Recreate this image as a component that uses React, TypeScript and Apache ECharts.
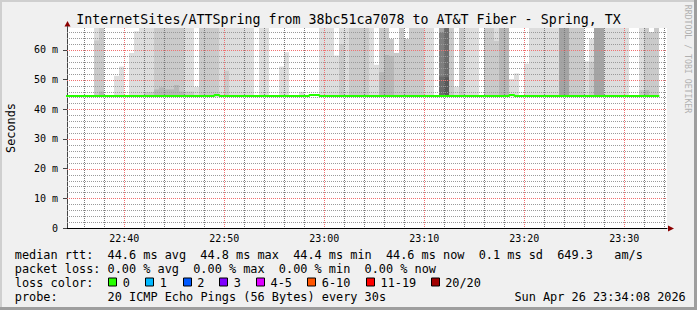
import React, { useEffect, useRef } from 'react';
import * as echarts from 'echarts';

// ---------------- data ----------------
const chartTitle = 'InternetSites/ATTSpring from 38bc51ca7078 to AT&T Fiber - Spring, TX';
const yAxisTitle = 'Seconds';
const watermark = 'RRDTOOL / TOBI OETIKER';

const axisStart = '22:34:16';
const axisEnd = '23:34:16';
const sampleStep = 30; // seconds per RRD step
const medianStart = '22:34:00';
const smokeStart = '22:37:00';

const xLabelTimes = ['22:40', '22:50', '23:00', '23:10', '23:20', '23:30'];
const xMinorMinutes = 2;
const xMajorMinutes = 10;
const yTicks = [0, 10, 20, 30, 40, 50, 60];
const yMinorStep = 2;
const yMax = 67.4;

// median RTT (ms), one value per 30 s step from medianStart
const medianRtt = [
  44.5, 44.5, 44.5, 44.5, 44.5, 44.5, 44.5, 44.5, 44.5, 44.5,
  44.5, 44.5, 44.5, 44.5, 44.5, 44.5, 44.5, 44.5, 44.5, 44.5,
  44.5, 44.5, 44.5, 44.5, 44.5, 44.5, 44.5, 44.5, 44.5, 44.5,
  44.85, 44.5, 44.5, 44.5, 44.5, 44.5, 44.5, 44.5, 44.5, 44.5,
  44.5, 44.5, 44.5, 44.5, 44.5, 44.5, 44.5, 44.5, 44.5, 44.85,
  44.85, 44.5, 44.5, 44.5, 44.5, 44.5, 44.5, 44.5, 44.5, 44.5,
  44.5, 44.5, 44.5, 44.5, 44.5, 44.5, 44.5, 44.5, 44.5, 44.5,
  44.5, 44.5, 44.5, 44.5, 44.5, 44.5, 44.5, 44.5, 44.5, 44.5,
  44.5, 44.5, 44.5, 44.5, 44.5, 44.5, 44.5, 44.5, 44.5, 44.85,
  44.5, 44.5, 44.5, 44.5, 44.5, 44.5, 44.5, 44.5, 44.5, 44.5,
  44.5, 44.5, 44.5, 44.5, 44.5, 44.5, 44.5, 44.5, 44.5, 44.5,
  44.5, 44.5, 44.5, 44.5, 44.5, 44.5, 44.5, 44.5, 44.5,
];

// smoke: pings above the median per 30 s step from smokeStart (ms, highest first)
const OFF = 70; // above the top of the graph
const smokeFloor = 44.3;
const smokePings: number[][] = [
  [OFF, 63.2], [OFF, OFF, 46.0], [], [], [51.3], [54.4], [], [59.0], [66.3], [OFF],
  [OFF, 45.8], [OFF, 45.8], [OFF, OFF, 46.7], [OFF, OFF, 47.4], [OFF, OFF, 46.7], [OFF, OFF, 46.7], [OFF, OFF, 48.2], [OFF, OFF, 46.0], [OFF, 46.0], [OFF, 46.0],
  [47.5], [OFF, OFF], [OFF, OFF], [OFF, OFF], [OFF, OFF], [OFF], [OFF, 53.0], [OFF], [OFF], [OFF],
  [OFF], [OFF], [], [OFF], [OFF], [], [], [54.4], [59.2], [],
  [], [45.9], [], [], [], [OFF], [OFF], [OFF], [58.1], [OFF, 62.0],
  [OFF], [OFF, OFF], [OFF, OFF], [OFF, OFF], [OFF, OFF], [OFF], [55.0], [OFF, OFF, 52.5], [OFF, OFF, 58.3], [63.7, 63.7, 58.0],
  [59.0, 59.0], [OFF, OFF], [63.7, 63.7], [OFF, OFF], [OFF, OFF], [OFF, OFF], [OFF], [OFF], [], [OFF, OFF, OFF, OFF, 66.0, 66.0, 51.0],
  [OFF, OFF, OFF, OFF, OFF, OFF, OFF, 50.8], [OFF, OFF], [47.6], [OFF, OFF], [OFF], [OFF], [OFF], [], [OFF, OFF], [OFF, OFF],
  [OFF, 63.0], [OFF, OFF, OFF], [OFF, OFF, OFF], [50.2], [52.1], [], [55.4], [OFF], [OFF], [OFF],
  [OFF], [OFF], [OFF], [OFF, OFF, OFF, OFF], [OFF, OFF, OFF, OFF], [OFF, OFF], [OFF, OFF], [OFF, OFF], [56.2], [63.7, 56.0],
  [OFF, OFF, OFF, OFF], [OFF, OFF, OFF, OFF], [OFF], [OFF], [OFF], [OFF], [OFF], [], [], [OFF, 46.5],
  [OFF, OFF, 46.5], [66.0, 66.0], [OFF, OFF],
];

const legendRtt = ['median rtt:', '44.6 ms avg', '44.8 ms max', '44.4 ms min', '44.6 ms now', '0.1 ms sd', '649.3', 'am/s'];
const legendLoss = ['packet loss:', '0.00 % avg', '0.00 % max', '0.00 % min', '0.00 % now'];
const lossColorTitle = 'loss color:';
const lossLabels = ['0', '1', '2', '3', '4-5', '6-10', '11-19', '20/20'];
const lossColors = ['#26ff00', '#00b8ff', '#0059ff', '#7e00ff', '#dd00ff', '#ff5500', '#ff0000', '#a10000'];
const probeLine = ['probe:', '20 ICMP Echo Pings (56 Bytes) every 30s'];
const stamp = 'Sun Apr 26 23:34:08 2026';

// ---------------- layout ----------------
const MONO = "'DejaVu Sans Mono', monospace";
const LEG_FONT = `11.86px ${MONO}`;
const LEG_X0 = 14.8;
const LEG_CW = 7.137;
const legendRttCols = [0, 13, 26, 39, 52, 65, 76, 84];
const legendLossCols = [0, 13, 25, 37, 49];
const lossSquareX = [108.3, 145.3, 182.7, 219.3, 256, 307.3, 366, 430.7];
const lineY = [254.5, 268.5, 282.5, 296.5];

const hms = (s: string) => {
  const p = s.split(':').map(Number);
  return p[0] * 3600 + p[1] * 60 + (p[2] || 0);
};
const pad = (n: number) => String(n).padStart(2, '0');
const fmtTime = (v: number) => `${pad(Math.floor(v / 3600))}:${pad(Math.floor((v % 3600) / 60))}`;

// smokeping smoke shades: outer pair lightest
const shade = (i: number) => {
  const c = Math.floor((190 / 10) * (10 - i)) + 50;
  const h = c.toString(16).padStart(2, '0');
  return `#${h}${h}${h}`;
};

export default function App() {
  const ref = useRef<HTMLDivElement>(null);

  useEffect(() => {
    if (!ref.current) return;
    const chart = echarts.init(ref.current, undefined, { renderer: 'svg' });
    const xMin = hms(axisStart);
    const xMax = hms(axisEnd);
    const smokeT0 = hms(smokeStart);
    const medT0 = hms(medianStart);

    const medianData: number[][] = medianRtt.map((v, i) => [medT0 + i * sampleStep, v]);
    medianData.push([medT0 + medianRtt.length * sampleStep, medianRtt[medianRtt.length - 1]]);

    const smokeData = smokePings.map((_, k) => [smokeT0 + k * sampleStep, smokeFloor, k]);

    const MINOR = '#9a9a9a';
    const MINOR_V = '#7a7a7a';
    const MAJOR = '#f07070';

    const textEl = (x: number, y: number, text: string, extra: any = {}) => ({
      type: 'text',
      x,
      y,
      silent: true,
      style: { text, font: LEG_FONT, fill: '#000', align: 'left', verticalAlign: 'middle', ...extra },
    });

    const graphics: any[] = [
      { type: 'rect', shape: { x: 0, y: 0, width: 697, height: 2 }, style: { fill: '#cfcfcf' }, silent: true },
      { type: 'rect', shape: { x: 0, y: 0, width: 2, height: 310 }, style: { fill: '#cfcfcf' }, silent: true },
      { type: 'rect', shape: { x: 0, y: 307, width: 697, height: 3 }, style: { fill: '#9e9e9e' }, silent: true },
      { type: 'rect', shape: { x: 694, y: 0, width: 3, height: 310 }, style: { fill: '#9e9e9e' }, silent: true },
      textEl(348.5, 19.5, chartTitle, { font: `13.3px ${MONO}`, align: 'center' }),
      { ...textEl(10.8, 128, yAxisTitle, { align: 'center' }), rotation: Math.PI / 2 },
      { ...textEl(688, 59, watermark, { font: `8.2px ${MONO}`, align: 'center', fill: '#b0b0b0' }), rotation: -Math.PI / 2 },
      { type: 'polygon', shape: { points: [[67.5, 21], [64.5, 26.5], [70.5, 26.5]] }, style: { fill: '#8b0000' }, silent: true },
      { type: 'line', shape: { x1: 67.5, y1: 26, x2: 67.5, y2: 28 }, style: { stroke: '#444', lineWidth: 1 }, silent: true },
      { type: 'polygon', shape: { points: [[674, 228.5], [668, 225.5], [668, 231.5]] }, style: { fill: '#8b0000' }, silent: true },
      { type: 'line', shape: { x1: 63, y1: 228.5, x2: 67, y2: 228.5 }, style: { stroke: '#000', lineWidth: 1 }, silent: true },
    ];
    legendRtt.forEach((t, i) => graphics.push(textEl(LEG_X0 + legendRttCols[i] * LEG_CW, lineY[0], t)));
    legendLoss.forEach((t, i) => graphics.push(textEl(LEG_X0 + legendLossCols[i] * LEG_CW, lineY[1], t)));
    graphics.push(textEl(LEG_X0, lineY[2], lossColorTitle));
    lossLabels.forEach((t, i) => {
      const sx = Math.round(lossSquareX[i]) + 0.5;
      graphics.push({
        type: 'rect',
        shape: { x: sx, y: lineY[2] - 4.5, width: 8, height: 8 },
        style: { fill: lossColors[i], stroke: '#000', lineWidth: 1 },
        silent: true,
      });
      graphics.push(textEl(lossSquareX[i] + 14.5, lineY[2], t));
    });
    graphics.push(textEl(LEG_X0, lineY[3], probeLine[0]));
    graphics.push(textEl(LEG_X0 + 13 * LEG_CW, lineY[3], probeLine[1]));
    graphics.push(textEl(LEG_X0 + 70 * LEG_CW, lineY[3], stamp));

    const dotted = (x1: number, y1: number, x2: number, y2: number, stroke: string) => ({
      type: 'line',
      shape: { x1, y1, x2, y2 },
      style: { stroke, lineWidth: 1, lineDash: [1, 1] },
    });

    const option: any = {
      animation: false,
      backgroundColor: '#f0f0f0',
      grid: { left: 67, top: 28, width: 600, height: 200, show: true, backgroundColor: '#ffffff', borderWidth: 0 },
      xAxis: {
        type: 'value',
        min: xMin,
        max: xMax,
        axisLine: { show: true, lineStyle: { color: '#000', width: 1 } },
        axisTick: { show: false },
        splitLine: { show: false },
        axisLabel: {
          customValues: xLabelTimes.map(hms),
          formatter: (v: number) => fmtTime(v),
          color: '#000',
          fontFamily: MONO,
          fontSize: 10,
          margin: 5,
        },
      },
      yAxis: {
        type: 'value',
        min: 0,
        max: yMax,
        axisLine: { show: true, lineStyle: { color: '#444', width: 1 } },
        axisTick: { show: true, length: 4, customValues: yTicks, lineStyle: { color: '#444' } },
        splitLine: { show: false },
        axisLabel: {
          customValues: yTicks,
          formatter: (v: number) => (v === 0 ? '0' : `${v} m`),
          color: '#000',
          fontFamily: MONO,
          fontSize: 10,
          margin: 9,
        },
      },
      graphic: graphics,
      series: [
        {
          type: 'custom',
          name: 'smoke',
          z: 2,
          silent: true,
          data: smokeData,
          encode: { x: 0, y: 1 },
          renderItem: (params: any, api: any) => {
            const t = api.value(0) as number;
            const k = api.value(2) as number;
            const pings = smokePings[k] || [];
            const cs = params.coordSys;
            const top = cs.y;
            const p0 = api.coord([t, smokeFloor]);
            const p1 = api.coord([t + sampleStep, smokeFloor]);
            const x0 = Math.round(p0[0]);
            const x1 = Math.round(p1[0]);
            const yb = p0[1];
            const children = pings.map((v, i) => {
              const yt = Math.max(top, api.coord([t, v])[1]);
              return {
                type: 'rect',
                shape: { x: x0, y: yt, width: x1 - x0, height: yb - yt },
                style: { fill: shade(i + 1) },
              };
            });
            return { type: 'group', children };
          },
        },
        {
          type: 'custom',
          name: 'grid',
          z: 3,
          silent: true,
          data: [[xMin, 0]],
          encode: { x: 0, y: 1 },
          renderItem: (params: any, api: any) => {
            const cs = params.coordSys;
            const left = cs.x;
            const right = cs.x + cs.width;
            const top = cs.y;
            const bottom = cs.y + cs.height;
            const ch: any[] = [];
            const stepM = xMinorMinutes * 60;
            const majM = xMajorMinutes * 60;
            for (let t = Math.ceil(xMin / stepM) * stepM; t <= xMax; t += stepM) {
              if (t % majM === 0) continue;
              const x = Math.round(api.coord([t, 0])[0]) + 0.5;
              ch.push(dotted(x, top, x, bottom, MINOR_V));
            }
            for (let v = yMinorStep; v < yMax; v += yMinorStep) {
              if (v % 10 === 0) continue;
              const y = Math.round(api.coord([xMin, v])[1]) + 0.5;
              ch.push(dotted(left, y, right, y, MINOR));
            }
            for (let t = Math.ceil(xMin / majM) * majM; t <= xMax; t += majM) {
              const x = Math.round(api.coord([t, 0])[0]) + 0.5;
              ch.push(dotted(x, top, x, bottom, MAJOR));
            }
            for (let v = 10; v < yMax; v += 10) {
              const y = Math.round(api.coord([xMin, v])[1]) + 0.5;
              ch.push(dotted(left, y, right, y, MAJOR));
            }
            return { type: 'group', children: ch };
          },
        },
        {
          type: 'line',
          name: 'median rtt',
          z: 4,
          step: 'end',
          showSymbol: false,
          silent: true,
          data: medianData,
          lineStyle: { color: '#26ff00', width: 2 },
        },
      ],
    };
    chart.setOption(option);
    return () => chart.dispose();
  }, []);

  return <div ref={ref} style={{ position: 'fixed', left: 0, top: 0, width: 697, height: 310 }} />;
}
